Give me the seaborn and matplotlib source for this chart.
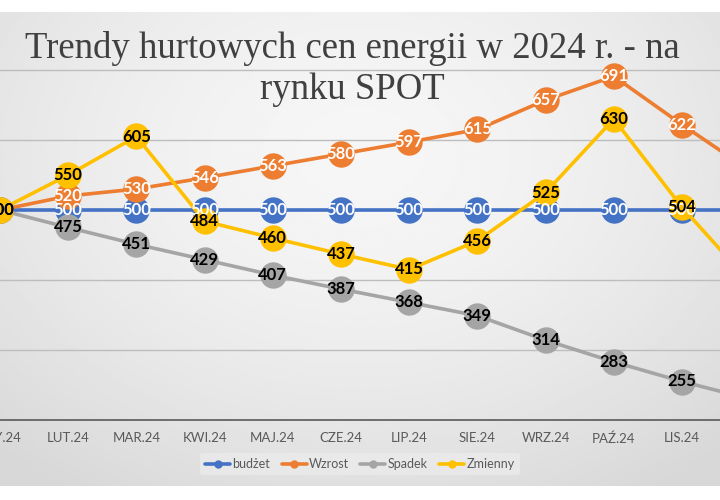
import numpy as np
import pandas as pd
import seaborn as sns
import matplotlib.pyplot as plt
from matplotlib.lines import Line2D

miesiace = ['STY.24', 'LUT.24', 'MAR.24', 'KWI.24', 'MAJ.24', 'CZE.24',
            'LIP.24', 'SIE.24', 'WRZ.24', 'PAŹ.24', 'LIS.24', 'GRU.24']
budzet = [500, 500, 500, 500, 500, 500, 500, 500, 500, 500, 500, 500]
wzrost = [500, 520, 530, 546, 563, 580, 597, 615, 657, 691, 622, 556]
spadek = [500, 475, 451, 429, 407, 387, 368, 349, 314, 283, 255, 230]
zmienny = [500, 550, 605, 484, 460, 437, 415, 456, 525, 630, 504, 396]

serie = ['budżet', 'Wzrost', 'Spadek', 'Zmienny']
kolory = ['#4472C4', '#ED7D31', '#A5A5A5', '#FFC000']
kolor_etykiet = ['white', 'white', 'black', 'black']

df = pd.DataFrame({'miesiac': miesiace, 'budżet': budzet, 'Wzrost': wzrost,
                   'Spadek': spadek, 'Zmienny': zmienny})
df['x'] = np.arange(len(miesiace))

sns.set_style('white')
plt.rcParams['font.family'] = ['Lato', 'DejaVu Sans']

fig = plt.figure(figsize=(7.2, 5), dpi=100)

# tlo - szary gradient
bg = fig.add_axes([0, 0.028, 1, 0.948])
yy, xx = np.mgrid[0:1:200j, 0:1:300j]
r = np.sqrt(((xx - 0.5) / 0.75) ** 2 + ((yy - 0.3) / 0.85) ** 2)
r = np.clip(r, 0, 1)
c = 0.965 - 0.12 * r ** 1.6
bg.imshow(c, cmap='gray', vmin=0, vmax=1, aspect='auto', extent=(0, 1, 1, 0))
bg.set_axis_off()

ax = fig.add_axes([0, 0.16, 1, 0.812])
ax.patch.set_alpha(0)

for nazwa, kol, kol_t in zip(serie, kolory, kolor_etykiet):
    sns.lineplot(data=df, x='x', y=nazwa, ax=ax, color=kol, linewidth=2.6,
                 marker='o', markersize=19, markeredgewidth=0, label=nazwa,
                 legend=False, clip_on=False)
    for xi, v in zip(df['x'], df[nazwa]):
        ax.text(xi, v, str(v), ha='center', va='center', color=kol_t,
                fontsize=12, fontweight='bold', zorder=10, clip_on=True)

ax.set_yticks([300, 400, 500, 600, 700])
ax.set_yticklabels([])
ax.grid(axis='y', color='#bdbdbd', linewidth=1)
ax.set_axisbelow(True)
ax.tick_params(axis='y', length=0)

ax.set_xticks(df['x'])
ax.set_xticklabels(miesiace, fontsize=9.5, color='#595959')
ax.set_xticks(np.arange(0.5, 12, 1), minor=True)
ax.tick_params(axis='x', which='major', length=0, pad=9)
ax.tick_params(axis='x', which='minor', length=5, color='#595959', width=1)
ax.set_xlim(0, 720 / 68.2)
ax.set_ylim(200, 780)
ax.set_xlabel('')
ax.set_ylabel('')
for s in ['top', 'left', 'right']:
    ax.spines[s].set_visible(False)
ax.spines['bottom'].set_color('#595959')
ax.spines['bottom'].set_linewidth(1.2)

fig.text(0.49, 0.862, 'Trendy hurtowych cen energii w 2024 r. - na\nrynku SPOT',
         ha='center', va='center', fontsize=26.5, color='#404040',
         family='Liberation Serif', linespacing=1.25)

uchwyty = [Line2D([0], [0], color=k, linewidth=2.6, marker='o', markersize=5)
           for k in kolory]
leg = fig.legend(uchwyty, serie, loc='center', bbox_to_anchor=(0.5, 0.072),
                 ncol=4, frameon=True, fontsize=9, handlelength=2.0,
                 columnspacing=0.9, handletextpad=0.2)
leg.get_frame().set_facecolor('#ebebeb')
leg.get_frame().set_edgecolor('none')
for t in leg.get_texts():
    t.set_color('#595959')

fig.savefig('out.png', dpi=100)
